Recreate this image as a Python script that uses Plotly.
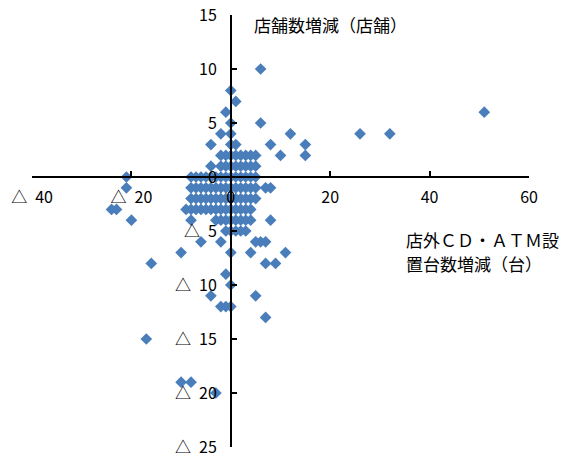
import plotly.graph_objects as go

# ---- data ----
atm_change = [
    # y = 2 row
    -2, -1, 0, 1, 2, 3, 4, 5,
    # y = 1 row
    -4, -2, -1, 0, 1, 2, 3, 4, 5,
    # y = 0 row
    -8, -7, -6, -5, -4, -3, -2, -1, 0, 1, 2, 3, 4, 5,
    # y = -1 row
    -8, -7, -6, -5, -4, -3, -2, -1, 0, 1, 2, 3, 4, 5, 7, 8,
    # y = -2 row
    -8, -7, -6, -5, -4, -3, -2, -1, 0, 1, 2, 3, 4, 5,
    # y = -3 row
    -9, -8, -7, -6, -5, -4, -3, -2, -1, 0, 1, 2, 3, 4,
    # y = -4 row
    -8, -3, -2, -1, 0, 1, 2, 3, 4, 8,
    # y = -5 row
    -1, 0, 1, 2, 3,
    # y = -6 row
    -6, -2, 5, 6, 7,
    # y = -7 row
    -10, 0, 4, 11,
    # y = -8 row
    -16, 7, 9,
    # scattered points
    6, 0, 1, -1, 0, 6, -2, 0, 12, 26, 32, 51, -4, 0, 1, 8, 15, 10, 15,
    -21, -21, -24, -23, -20, -1, 0, -4, 5, -2, -1, 0, 7, -17, -10, -8, -3,
]
store_change = (
    [2] * 8
    + [1] * 9
    + [0] * 14
    + [-1] * 16
    + [-2] * 14
    + [-3] * 14
    + [-4] * 10
    + [-5] * 5
    + [-6] * 5
    + [-7] * 4
    + [-8] * 3
    + [10, 8, 7, 6, 5, 5, 4, 4, 4, 4, 4, 6, 3, 3, 3, 3, 3, 2, 2,
       0, -1, -3, -3, -4, -9, -10, -11, -11, -12, -12, -12, -13, -15, -19, -19, -20]
)

x_ticks = [-40, -20, 0, 20, 40, 60]
x_tick_labels = ["△\u200240", "△\u200220", "0", "20", "40", "60"]
y_ticks = [-25, -20, -15, -10, -5, 0, 5, 10, 15]
y_tick_labels = ["△\u200225", "△\u200220", "△\u200215", "△\u200210", "△\u20025",
                 "0", "5", "10", "15"]

y_title = "店舗数増減（店舗）"
x_title_1 = "店外ＣＤ・ＡＴＭ設"
x_title_2 = "置台数増減（台）"

FONT = "Noto Sans CJK JP"

# the page's body margin is removed (post_script), so the figure fills the window
W, H = 566, 457
L, R, T, B = 32, 37, 15, 10
PW, PH = W - L - R, H - T - B


def px_x(p):  # page pixel -> paper x
    return (p - L) / PW


def px_y(p):  # page pixel -> paper y
    return (H - B - p) / PH


fig = go.Figure()
fig.add_trace(go.Scatter(
    x=atm_change, y=store_change, mode="markers",
    marker=dict(symbol="diamond", size=9, color="#4A7EBB", line=dict(width=0)),
    hoverinfo="x+y", showlegend=False,
))

axis_common = dict(
    showgrid=False, zeroline=False, showline=True, linecolor="#000000", linewidth=1.5,
    ticks="inside", ticklen=5, tickwidth=1.5, tickcolor="#000000",
    tickfont=dict(family=FONT, size=16, color="#000000"),
    ticklabeloverflow="allow",
    automargin=False,
    layer="above traces",
)

title_font = dict(family=FONT, size=17, color="#000000")

fig.update_layout(
    width=W, height=H,
    margin=dict(l=L, r=R, t=T, b=B),
    paper_bgcolor="white", plot_bgcolor="white",
    font=dict(family=FONT, size=16, color="#000000"),
    xaxis=dict(range=[-40, 60], tickvals=x_ticks, ticktext=x_tick_labels,
               anchor="free", position=0.625, ticklabelstandoff=6, **axis_common),
    yaxis=dict(range=[-25, 15], tickvals=y_ticks, ticktext=y_tick_labels,
               anchor="free", position=0.4, ticklabelstandoff=10, **axis_common),
    annotations=[
        dict(text=y_title, xref="paper", yref="paper", x=px_x(252), y=px_y(25),
             xanchor="left", yanchor="middle", showarrow=False, font=title_font),
        dict(text=x_title_1, xref="paper", yref="paper", x=px_x(404), y=px_y(240),
             xanchor="left", yanchor="middle", showarrow=False, font=title_font),
        dict(text=x_title_2, xref="paper", yref="paper", x=px_x(404), y=px_y(263),
             xanchor="left", yanchor="middle", showarrow=False, font=title_font),
    ],
)

fig.write_html(
    "out.html",
    config={"displayModeBar": False},
    post_script="document.body.style.margin='0';document.body.style.overflow='hidden';",
)
